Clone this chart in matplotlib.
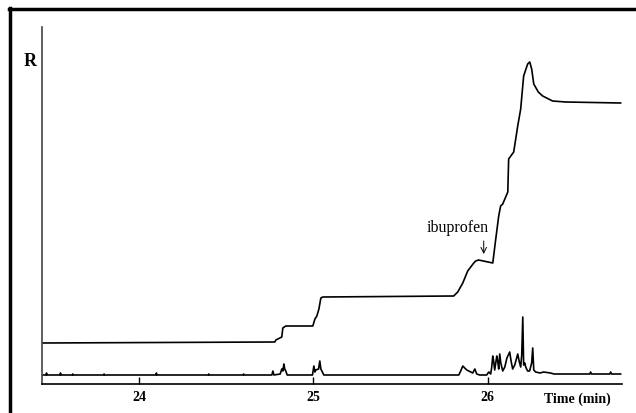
import matplotlib.pyplot as plt
from matplotlib.lines import Line2D

# upper trace (R)
t_upper = [23.444, 24.779, 24.785, 24.819, 24.825, 24.842, 24.997, 25.009, 25.020, 25.032,
           25.043, 25.054, 25.805, 25.828, 25.857, 25.885, 25.920, 25.931, 25.948, 26.029,
           26.046, 26.063, 26.074, 26.086, 26.115, 26.120, 26.149, 26.172, 26.189, 26.206,
           26.229, 26.241, 26.252, 26.264, 26.290, 26.315, 26.372, 26.447, 26.762]
r_upper = [32, 33, 35, 38, 47, 49, 49, 56, 59, 66,
           77, 78, 79, 83, 92, 104, 112, 114, 115, 112,
           136, 159, 169, 171, 183, 216, 223, 249, 266, 299,
           311, 313, 306, 291, 283, 279, 274, 273, 272]

# lower trace (chromatogram)
t_lower = [23.444, 23.467, 23.470, 23.473, 23.547, 23.550, 23.553, 23.617, 23.620, 23.623,
           23.797, 23.800, 23.803, 24.097, 24.100, 24.103, 24.397, 24.400, 24.403, 24.597,
           24.600, 24.603, 24.762, 24.768, 24.774, 24.810, 24.819, 24.825, 24.831, 24.836,
           24.842, 24.850, 24.995, 25.003, 25.009, 25.014, 25.030, 25.037, 25.043, 25.049,
           25.060, 25.834, 25.845, 25.857, 25.868, 25.880, 25.891, 25.903, 25.914, 25.926,
           25.937, 25.954, 25.994, 26.006, 26.017, 26.023, 26.029, 26.034, 26.040, 26.046,
           26.052, 26.057, 26.063, 26.069, 26.075, 26.086, 26.098, 26.110, 26.126, 26.134,
           26.143, 26.155, 26.172, 26.180, 26.189, 26.195, 26.201, 26.206, 26.212, 26.218,
           26.223, 26.229, 26.240, 26.252, 26.258, 26.264, 26.275, 26.300, 26.320, 26.360,
           26.380, 26.585, 26.590, 26.595, 26.700, 26.705, 26.710, 26.762]
r_lower = [0, 0, 2, 0, 0, 2, 0, 0, 1, 0,
           0, 1, 0, 0, 2, 0, 0, 1, 0, 0,
           1, 0, 0, 4, 0, 1, 6, 4, 11, 6,
           4, 0, 0, 9, 3, 5, 6, 14, 6, 4,
           0, 0, 4, 9, 7, 5, 4, 3, 2, 6,
           1, 0, 0, 3, 1, 8, 19, 14, 5, 12,
           19, 14, 6, 21, 12, 4, 8, 17, 23, 14,
           6, 10, 21, 14, 8, 20, 58, 10, 12, 8,
           6, 4, 4, 12, 27, 5, 3, 2, 3, 2,
           1, 1, 3, 1, 1, 3, 1, 1]

xticks = [24, 25, 26]

fig = plt.figure(figsize=(6.36, 4.14), dpi=100)
ax = fig.add_axes([42 / 636, 29 / 414, 580 / 636, 357 / 414])

ax.plot(t_upper, r_upper, color='black', lw=1.2)
ax.plot(t_lower, r_lower, color='black', lw=1.2)

ax.set_xlim(23.444, 26.77)
ax.set_ylim(-9, 348)
for s in ['top', 'right']:
    ax.spines[s].set_visible(False)
ax.spines['left'].set_linewidth(1.2)
ax.spines['left'].set_color('#444444')
ax.spines['bottom'].set_linewidth(1.2)
ax.set_yticks([])
ax.set_xticks(xticks)
ax.set_xticklabels([str(v) for v in xticks], fontfamily='Liberation Serif',
                   fontweight='bold', fontsize=10)
ax.tick_params(axis='x', direction='in', length=5, width=1, pad=4)

ax.text(26.516, -23, 'Time (min)', fontfamily='Liberation Serif', fontweight='bold',
        fontsize=10, ha='center', va='center', clip_on=False)
fig.text(30 / 636, 1 - 61 / 414, 'R', fontfamily='Liberation Serif', fontweight='bold',
         fontsize=13, ha='center', va='center')

ax.text(25.828, 148, 'ibuprofen', fontfamily='Liberation Serif', fontsize=11.5,
        ha='center', va='center')
ax.annotate('', xy=(25.977, 121), xytext=(25.977, 134),
            arrowprops=dict(arrowstyle='->', color='black', lw=0.7,
                            shrinkA=0, shrinkB=0))

# outer frame (top and left)
fig.add_artist(Line2D([9 / 636, 1], [1 - 10 / 414, 1 - 10 / 414], color='black', lw=2.5))
fig.add_artist(Line2D([10 / 636, 10 / 636], [0, 1 - 9 / 414], color='black', lw=2.5))

fig.savefig('out.png', dpi=100)
